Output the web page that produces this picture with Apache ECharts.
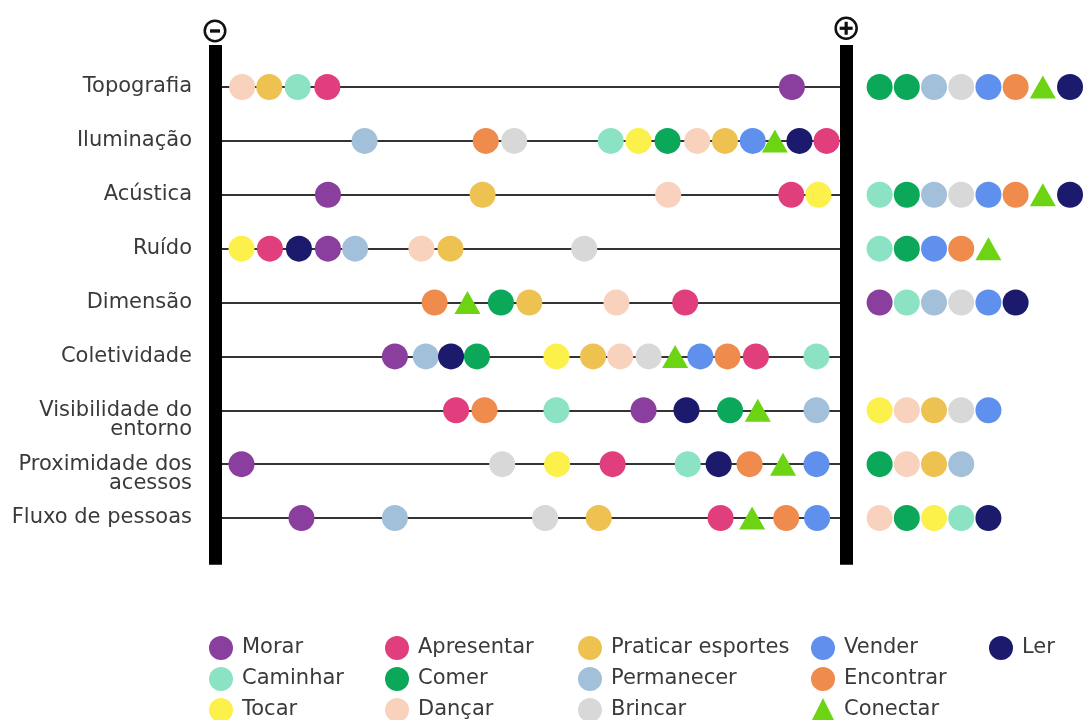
<!DOCTYPE html>
<html>
<head>
<meta charset="utf-8">
<style>
  html, body { margin: 0; padding: 0; background: #ffffff; }
  #chart { width: 1086px; height: 720px; }
</style>
<script src="https://cdn.jsdelivr.net/npm/echarts@6/dist/echarts.min.js"></script>
</head>
<body>
<div id="chart"></div>
<script>
// ---------- DATA ----------
const categories = ['Topografia', 'Iluminação', 'Acústica', 'Ruído', 'Dimensão', 'Coletividade',
  'Visibilidade do\nentorno', 'Proximidade dos\nacessos', 'Fluxo de pessoas'];

const activities = ['Morar', 'Caminhar', 'Tocar', 'Apresentar', 'Comer', 'Dançar',
  'Praticar esportes', 'Permanecer', 'Brincar', 'Vender', 'Encontrar', 'Conectar', 'Ler'];

// position of each activity on the scale from "−" (0) to "+" (100)
const rowTopografia = [['Dançar', 4.3], ['Praticar esportes', 8.6], ['Caminhar', 13.1], ['Apresentar', 17.8], ['Morar', 91.4]];
const rowIluminacao = [['Permanecer', 23.7], ['Encontrar', 42.9], ['Brincar', 47.4], ['Caminhar', 62.7], ['Tocar', 67.1],
  ['Comer', 71.7], ['Dançar', 76.4], ['Praticar esportes', 80.8], ['Vender', 85.2], ['Conectar', 88.7], ['Ler', 92.6], ['Apresentar', 96.9]];
const rowAcustica = [['Morar', 17.9], ['Praticar esportes', 42.4], ['Dançar', 71.8], ['Apresentar', 91.3], ['Tocar', 95.6]];
const rowRuido = [['Tocar', 4.2], ['Apresentar', 8.7], ['Ler', 13.3], ['Morar', 17.9], ['Permanecer', 22.2],
  ['Dançar', 32.7], ['Praticar esportes', 37.3], ['Brincar', 58.5]];
const rowDimensao = [['Encontrar', 34.8], ['Conectar', 40.0], ['Comer', 45.3], ['Praticar esportes', 49.8], ['Dançar', 63.6], ['Apresentar', 74.5]];
const rowColetividade = [['Morar', 28.5], ['Permanecer', 33.4], ['Ler', 37.4], ['Comer', 41.5], ['Tocar', 54.1],
  ['Praticar esportes', 59.9], ['Dançar', 64.2], ['Brincar', 68.7], ['Conectar', 72.9], ['Vender', 76.9],
  ['Encontrar', 81.2], ['Apresentar', 85.7], ['Caminhar', 95.3]];
const rowVisibilidade = [['Apresentar', 38.2], ['Encontrar', 42.7], ['Caminhar', 54.1], ['Morar', 67.9], ['Ler', 74.7],
  ['Comer', 81.6], ['Conectar', 86.0], ['Permanecer', 95.3]];
const rowProximidade = [['Morar', 4.2], ['Brincar', 45.5], ['Tocar', 54.2], ['Apresentar', 63.0], ['Caminhar', 74.9],
  ['Ler', 79.8], ['Encontrar', 84.7], ['Conectar', 90.0], ['Vender', 95.3]];
const rowFluxo = [['Morar', 13.7], ['Permanecer', 28.5], ['Brincar', 52.3], ['Praticar esportes', 60.8],
  ['Apresentar', 80.1], ['Conectar', 85.1], ['Encontrar', 90.5], ['Vender', 95.4]];

// activities listed beyond the "+" pole, in order
const plusTopografia = ['Comer', 'Comer', 'Permanecer', 'Brincar', 'Vender', 'Encontrar', 'Conectar', 'Ler'];
const plusIluminacao = [];
const plusAcustica = ['Caminhar', 'Comer', 'Permanecer', 'Brincar', 'Vender', 'Encontrar', 'Conectar', 'Ler'];
const plusRuido = ['Caminhar', 'Comer', 'Vender', 'Encontrar', 'Conectar'];
const plusDimensao = ['Morar', 'Caminhar', 'Permanecer', 'Brincar', 'Vender', 'Ler'];
const plusColetividade = [];
const plusVisibilidade = ['Tocar', 'Dançar', 'Praticar esportes', 'Brincar', 'Vender'];
const plusProximidade = ['Comer', 'Dançar', 'Praticar esportes', 'Permanecer'];
const plusFluxo = ['Dançar', 'Comer', 'Tocar', 'Caminhar', 'Ler'];

const legendColumns = [
  ['Morar', 'Caminhar', 'Tocar'],
  ['Apresentar', 'Comer', 'Dançar'],
  ['Praticar esportes', 'Permanecer', 'Brincar'],
  ['Vender', 'Encontrar', 'Conectar'],
  ['Ler']
];

// ---------- STYLE ----------
const palette = {
  'Morar': '#8A3E9E', 'Caminhar': '#8BE3C3', 'Tocar': '#FCF04A', 'Apresentar': '#E03E7D',
  'Comer': '#0CA85A', 'Dançar': '#F8D2BD', 'Praticar esportes': '#EEC250', 'Permanecer': '#A3C0DA',
  'Brincar': '#D8D8D8', 'Vender': '#5F90EE', 'Encontrar': '#F08B4E', 'Conectar': '#6CD412', 'Ler': '#1C1A6C'
};
const FONT = 'DejaVu Sans';
const TEXT_COLOR = '#3a3a3a';
const PLUS_START = 105.3;   // first slot beyond the + pole
const PLUS_STEP = 4.31;     // slot spacing beyond the + pole
const legendLefts = [209, 385, 578, 811, 989];

// ---------- BUILD ----------
const rows = [rowTopografia, rowIluminacao, rowAcustica, rowRuido, rowDimensao, rowColetividade, rowVisibilidade, rowProximidade, rowFluxo];
const plusRows = [plusTopografia, plusIluminacao, plusAcustica, plusRuido, plusDimensao, plusColetividade, plusVisibilidade, plusProximidade, plusFluxo];

const byActivity = {};
activities.forEach(a => byActivity[a] = []);
rows.forEach((row, r) => row.forEach(([a, x]) => byActivity[a].push([x, r])));
plusRows.forEach((row, r) => row.forEach((a, i) => byActivity[a].push([PLUS_START + i * PLUS_STEP, r])));

const activitySeries = activities.map(a => ({
  type: 'scatter',
  name: a,
  symbol: a === 'Conectar' ? 'triangle' : 'circle',
  symbolSize: a === 'Conectar' ? [26, 23] : 26,
  itemStyle: { color: palette[a], opacity: 1 },
  data: byActivity[a],
  z: 5,
  silent: true
}));

const rowLines = categories.map((c, r) => [{ coord: [0, r] }, { coord: [100, r] }]);

const frameSeries = {
  type: 'scatter',
  name: 'frame',
  data: [],
  z: 2,
  silent: true,
  markLine: {
    silent: true,
    symbol: ['none', 'none'],
    label: { show: false },
    lineStyle: { color: '#333333', width: 2.2, type: 'solid' },
    data: rowLines
  }
};

const poleSeries = {
  type: 'scatter',
  name: 'poles',
  data: [],
  z: 6,
  silent: true,
  markLine: {
    silent: true,
    symbol: ['none', 'none'],
    label: { show: false },
    lineStyle: { color: '#000000', width: 13, type: 'solid', cap: 'butt' },
    data: [
      [{ coord: [0, -0.78] }, { coord: [0, 8.87] }],
      [{ coord: [100, -0.78] }, { coord: [100, 8.87] }]
    ]
  },
  markPoint: {
    silent: true,
    label: { show: false },
    data: [
      { coord: [0, -1.04], symbol: 'circle', symbolSize: 20.5, itemStyle: { color: '#fff', borderColor: '#111', borderWidth: 2.5 } },
      { coord: [0, -1.04], symbol: 'rect', symbolSize: [10, 3.4], itemStyle: { color: '#111' } },
      { coord: [100, -1.09], symbol: 'circle', symbolSize: 21, itemStyle: { color: '#fff', borderColor: '#111', borderWidth: 2.5 } },
      { coord: [100, -1.09], symbol: 'rect', symbolSize: [13, 3.2], itemStyle: { color: '#111' } },
      { coord: [100, -1.09], symbol: 'rect', symbolSize: [3.2, 13], itemStyle: { color: '#111' } }
    ]
  }
};

const legends = legendColumns.map((col, k) => ({
  orient: 'vertical',
  left: legendLefts[k],
  top: 636,
  height: 110,
  padding: 0,
  itemWidth: 24,
  itemHeight: 24,
  itemGap: 7,
  selectedMode: false,
  textStyle: { fontFamily: FONT, fontSize: 21, color: TEXT_COLOR, padding: [0, 0, 0, 4] },
  data: col.map(a => ({ name: a, icon: a === 'Conectar' ? 'triangle' : 'circle' }))
}));

const option = {
  backgroundColor: '#ffffff',
  animation: false,
  grid: { left: 215, top: 6.1875, width: 873.54, height: 565.6875, containLabel: false },
  xAxis: { type: 'value', min: 0, max: 138, show: false },
  yAxis: {
    type: 'value',
    inverse: true,
    min: -1.5,
    max: 9,
    interval: 0.5,
    axisLine: { show: false },
    axisTick: { show: false },
    splitLine: { show: false },
    axisLabel: {
      margin: 23,
      fontFamily: FONT,
      fontSize: 21,
      color: TEXT_COLOR,
      lineHeight: 19,
      formatter: v => {
        const c = Number.isInteger(v) ? categories[v] : undefined;
        if (c === undefined) return '';
        return c.indexOf('\n') >= 0 ? '\n' + c : c;
      }
    }
  },
  legend: legends,
  series: [frameSeries, ...activitySeries, poleSeries]
};

const chart = echarts.init(document.getElementById('chart'), null, { renderer: 'canvas' });
chart.setOption(option);
</script>
</body>
</html>
